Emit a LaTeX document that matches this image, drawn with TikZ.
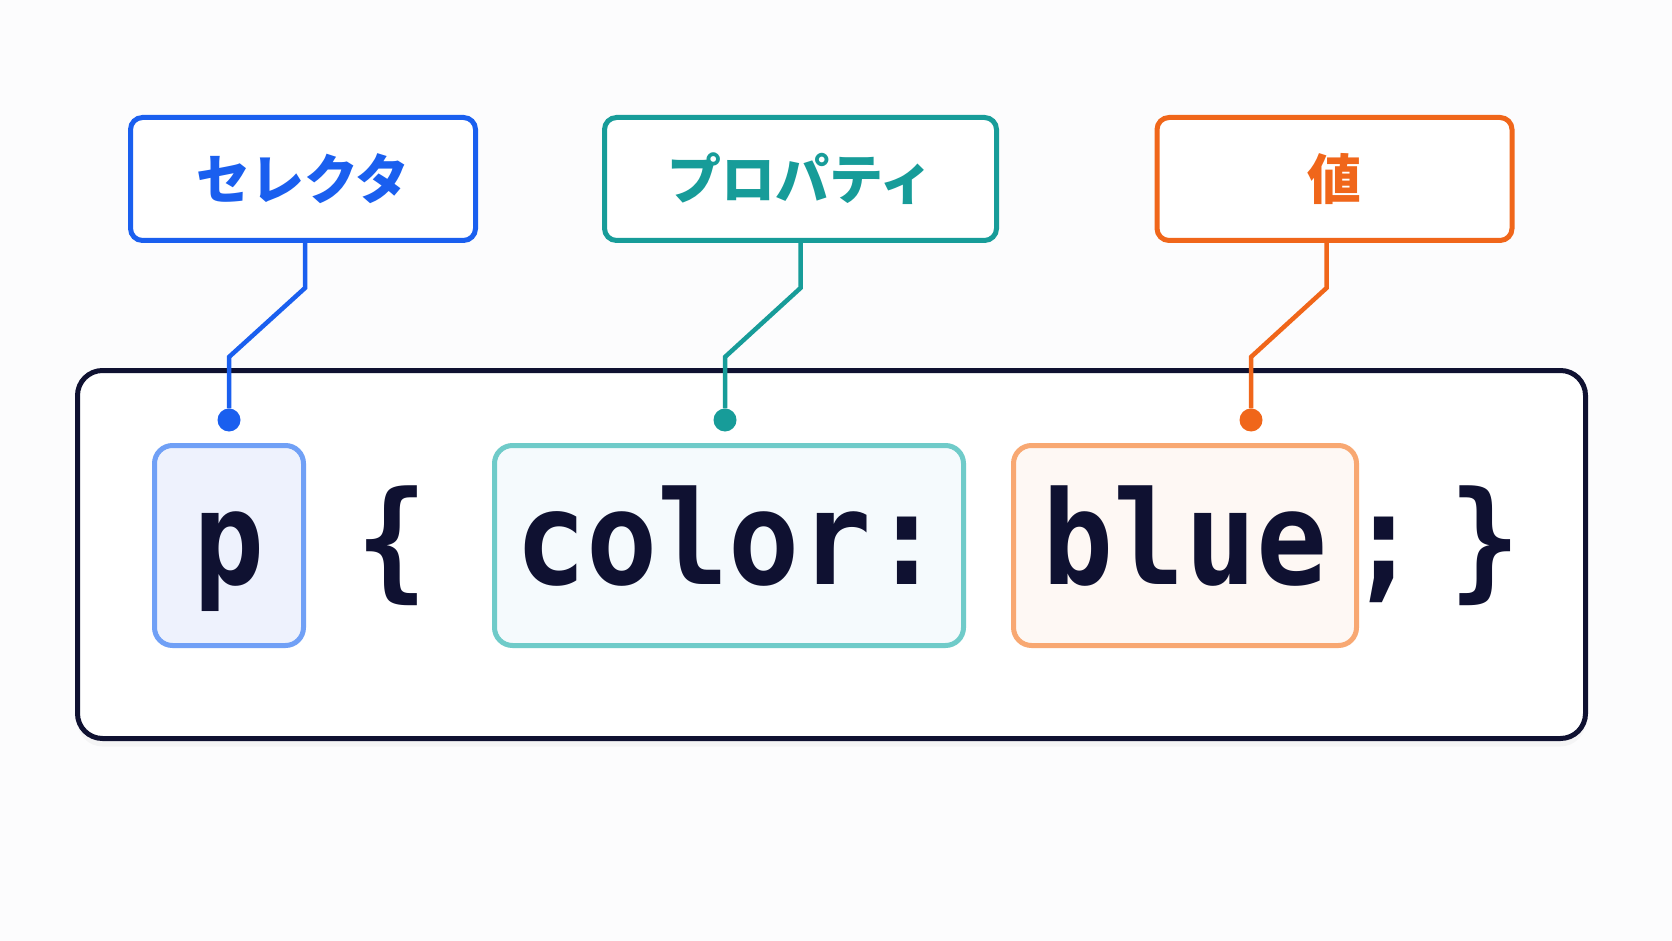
\documentclass[tikz,border=0pt]{standalone}
\usepackage{fontspec}
\usepackage{xcolor}
\usepackage{tikz}
\usetikzlibrary{shadows}

\newfontfamily\cjk{Noto Sans CJK JP}
\newfontfamily\codefont{DejaVu Sans Mono}[FakeStretch=0.91]

\definecolor{bgcol}{HTML}{FCFCFD}
\definecolor{ink}{HTML}{0F1131}
\definecolor{selblue}{HTML}{1A5FEF}
\definecolor{propteal}{HTML}{179C99}
\definecolor{valorange}{HTML}{F0661A}
\definecolor{pline}{HTML}{70A0F6}
\definecolor{pfill}{HTML}{EEF2FD}
\definecolor{cline}{HTML}{6FCBC9}
\definecolor{cfill}{HTML}{F5FAFD}
\definecolor{bline}{HTML}{F8A872}
\definecolor{bfill}{HTML}{FEF8F4}

\tikzset{
    labelbox/.style={draw, line width=5pt, rounded corners=12pt, fill=white,
        minimum height=123pt, font=\cjk\bfseries\fontsize{54}{60}\selectfont},
    mainbox/.style={draw=ink, line width=5pt, rounded corners=25pt, fill=white,
        minimum width=1508pt, minimum height=368pt,
        drop shadow={opacity=0.06, shadow xshift=0pt, shadow yshift=-8pt}},
    code/.style={font=\codefont\bfseries\fontsize{130}{134}\selectfont, text=ink,
        inner sep=0pt, text height=100pt, text depth=23pt},
    tokenbox/.style={code, draw, line width=5pt, rounded corners=18pt, minimum height=200pt},
    leader/.style={line width=4.5pt},
    pin/.style={circle, inner sep=0pt, minimum size=23pt}
}

\begin{document}
\begin{tikzpicture}[x=1pt, y=-1pt]
    % Background and frame
    \fill[bgcol] (0,0) rectangle (1672,941);

    % Labels on top
    \node[labelbox, draw=selblue, text=selblue, minimum width=345pt] (sel) at (303,179) {セレクタ};
    \node[labelbox, draw=propteal, text=propteal, minimum width=392pt] (prop) at (800.5,179) {プロパティ};
    \node[labelbox, draw=valorange, text=valorange, minimum width=355pt] (val) at (1334.5,179) {値};

    % The rule itself
    \node[mainbox] (rule) at (831.5,554.5) {};

    \node[tokenbox, draw=pline, fill=pfill, minimum width=149pt] (seltok) at (229,545.5) {p};
    \node[code] (open) at (392,545.5) {\{};
    \node[tokenbox, draw=cline, fill=cfill, minimum width=469pt] (proptok) at (729,545.5) {color:};
    \node[tokenbox, draw=bline, fill=bfill, minimum width=343pt] (valtok) at (1185,545.5) {blue};
    \node[code] (semi) at (1384,545.5) {;};
    \node[code] (close) at (1485,545.5) {\}};

    % Pins and leader lines
    \node[pin, fill=selblue] (selpin) at (229,420) {};
    \node[pin, fill=propteal] (proppin) at (725,420) {};
    \node[pin, fill=valorange] (valpin) at (1251,420) {};

    \foreach \lab/\pin/\dx/\col in {sel/selpin/2/selblue, prop/proppin/0/propteal, val/valpin/-8/valorange}
        \draw[leader, \col] ([xshift=\dx pt]\lab.south) -- ++(0,45) -- (\pin |- 0,357) -- (\pin);
\end{tikzpicture}
\end{document}
